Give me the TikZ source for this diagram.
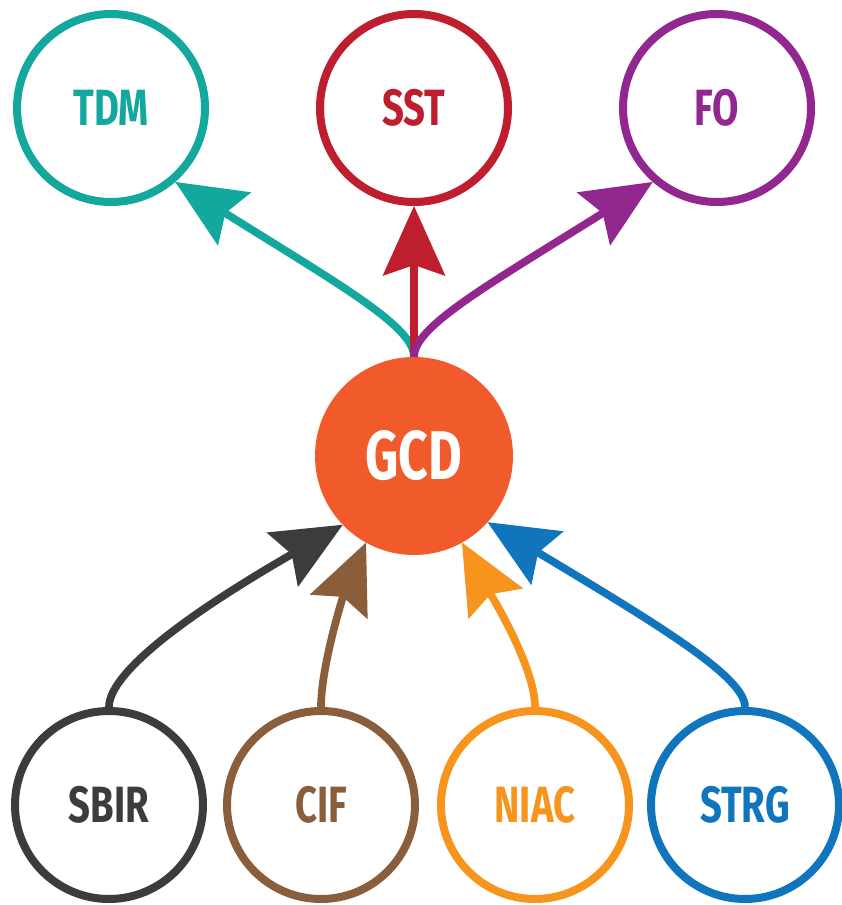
\documentclass[tikz,border=0pt]{standalone}
\usepackage{fontspec}
\newfontfamily\lblfont{Fira Sans}[FakeStretch=0.75]
\usetikzlibrary{arrows.meta}
\definecolor{cteal}{HTML}{12A89D}
\definecolor{cred}{HTML}{BE1E2D}
\definecolor{cpurple}{HTML}{92278F}
\definecolor{cgcd}{HTML}{F15A2B}
\definecolor{cdark}{HTML}{3C3C3E}
\definecolor{cbrown}{HTML}{8A5D3B}
\definecolor{corange}{HTML}{F7941E}
\definecolor{cblue}{HTML}{1075BC}
\begin{document}
\begin{tikzpicture}[x=1pt,y=1pt,
  ring/.style={circle, draw=#1, line width=8pt, minimum size=188pt, inner sep=0pt, text=#1,
    font=\lblfont\bfseries\fontsize{51}{51}\selectfont},
  hub/.style={circle, fill=cgcd, minimum size=198pt, inner sep=0pt, outer sep=0pt, text=white,
    font=\lblfont\bfseries\fontsize{69}{69}\selectfont},
  link/.style={draw=#1, line width=7.7pt, -{Stealth[length=70pt,width=63pt,inset=11pt,line width=0pt]}},
]
\useasboundingbox (0,0) rectangle (841,905);
\node[ring=cteal] (tdm) at (111,797) {TDM};
\node[ring=cred] (sst) at (414,797) {SST};
\node[ring=cpurple] (fo) at (717,797) {FO};
\node[hub] (gcd) at (414,449) {GCD};
\node[ring=cdark] (sbir) at (109,100) {SBIR};
\node[ring=cbrown] (cif) at (321,100) {CIF};
\node[ring=corange] (niac) at (535,100) {NIAC};
\node[ring=cblue] (strg) at (745,100) {STRG};

\draw[link=cteal] (gcd.north) .. controls +(90:30) and +(-32:200) .. (tdm.-49);
\draw[link=cred] (gcd.north) -- (sst.south);
\draw[link=cpurple] (gcd.north) .. controls +(90:30) and +(-148:200) .. (fo.-131);

\draw[link=cdark] (sbir.north) .. controls +(90:30) and +(210:200) .. (gcd.-136);
\draw[link=cbrown] (cif.north) .. controls +(90:40) and +(247:60) .. (gcd.-119);
\draw[link=corange] (niac.north) .. controls +(90:40) and +(-61:60) .. (gcd.-61);
\draw[link=cblue] (strg.north) .. controls +(90:30) and +(-31:200) .. (gcd.-42);
\end{tikzpicture}
\end{document}
